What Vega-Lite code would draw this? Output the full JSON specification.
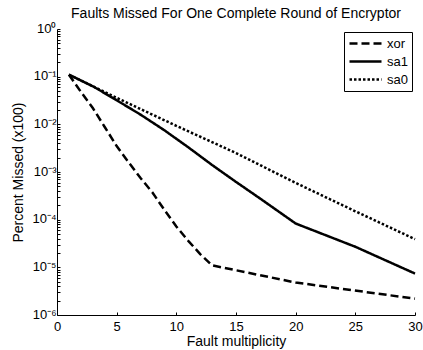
{
  "$schema": "https://vega.github.io/schema/vega-lite/v6.json",
  "width": 358,
  "height": 286,
  "autosize": "none",
  "padding": {"left": 57, "top": 29, "right": 8, "bottom": 35},
  "background": "white",
  "config": {
    "view": {"stroke": null},
    "font": "Liberation Sans",
    "axis": {"domainColor": "black", "tickColor": "black", "labelColor": "black", "titleColor": "black", "grid": false, "labelFontSize": 13, "titleFontSize": 14, "titleFontWeight": "normal"}
  },
  "title": {"text": "Faults Missed For One Complete Round of Encryptor", "fontSize": 14, "fontWeight": "normal", "color": "black", "offset": 1, "font": "Liberation Sans"},
  "data": {"values": [
    {"m": 1, "s": "xor", "v": 0.11},
    {"m": 2, "s": "xor", "v": 0.048},
    {"m": 3, "s": "xor", "v": 0.022},
    {"m": 4, "s": "xor", "v": 0.0088},
    {"m": 5, "s": "xor", "v": 0.0035},
    {"m": 6, "s": "xor", "v": 0.0016},
    {"m": 7, "s": "xor", "v": 0.00075},
    {"m": 8, "s": "xor", "v": 0.00037},
    {"m": 9, "s": "xor", "v": 0.00016},
    {"m": 10, "s": "xor", "v": 0.000072},
    {"m": 11, "s": "xor", "v": 0.000036},
    {"m": 12, "s": "xor", "v": 0.000019},
    {"m": 13, "s": "xor", "v": 0.000011},
    {"m": 20, "s": "xor", "v": 0.0000048},
    {"m": 30, "s": "xor", "v": 0.0000022},
    {"m": 1, "s": "sa1", "v": 0.11},
    {"m": 3, "s": "sa1", "v": 0.063},
    {"m": 5, "s": "sa1", "v": 0.032},
    {"m": 7, "s": "sa1", "v": 0.016},
    {"m": 9, "s": "sa1", "v": 0.0075},
    {"m": 11, "s": "sa1", "v": 0.0033},
    {"m": 13, "s": "sa1", "v": 0.0014},
    {"m": 15, "s": "sa1", "v": 0.00062},
    {"m": 17, "s": "sa1", "v": 0.00028},
    {"m": 20, "s": "sa1", "v": 0.000083},
    {"m": 25, "s": "sa1", "v": 0.000027},
    {"m": 30, "s": "sa1", "v": 0.0000074},
    {"m": 1, "s": "sa0", "v": 0.11},
    {"m": 5, "s": "sa0", "v": 0.036},
    {"m": 10, "s": "sa0", "v": 0.0093},
    {"m": 15, "s": "sa0", "v": 0.0025},
    {"m": 20, "s": "sa0", "v": 0.00059},
    {"m": 25, "s": "sa0", "v": 0.00015},
    {"m": 30, "s": "sa0", "v": 0.000039}
  ]},
  "mark": {"type": "line", "color": "black", "strokeWidth": 2.5},
  "encoding": {
    "x": {"field": "m", "type": "quantitative", "scale": {"domain": [0, 30], "nice": false},
      "axis": {"values": [0, 5, 10, 15, 20, 25, 30], "title": "Fault multiplicity", "tickSize": -3, "labelPadding": 8, "titlePadding": 1, "labelFlush": false}},
    "y": {"field": "v", "type": "quantitative", "scale": {"type": "log", "domain": [0.000001, 1], "nice": false},
      "axis": {"title": "Percent Missed (x100)", "tickSize": -3, "labelPadding": 4, "labelOffset": -1, "titlePadding": 6, "labelOverlap": false, "labelFlush": false,
        "values": [0.000001, 0.000002, 0.000003, 0.000004, 0.000005, 0.000006, 0.000007, 0.000008, 0.000009,
          0.00001, 0.00002, 0.00003, 0.00004, 0.00005, 0.00006, 0.00007, 0.00008, 0.00009,
          0.0001, 0.0002, 0.0003, 0.0004, 0.0005, 0.0006, 0.0007, 0.0008, 0.0009,
          0.001, 0.002, 0.003, 0.004, 0.005, 0.006, 0.007, 0.008, 0.009,
          0.01, 0.02, 0.03, 0.04, 0.05, 0.06, 0.07, 0.08, 0.09,
          0.1, 0.2, 0.3, 0.4, 0.5, 0.6, 0.7, 0.8, 0.9, 1],
        "labelExpr": "['10⁰','10⁻¹','10⁻²','10⁻³','10⁻⁴','10⁻⁵','10⁻⁶'][indexof([1,0.1,0.01,0.001,0.0001,0.00001,0.000001], datum.value)] || ''"}},
    "strokeDash": {"field": "s", "type": "nominal",
      "scale": {"domain": ["xor", "sa1", "sa0"], "range": [[8, 4], [1, 0], [2.5, 2]]},
      "legend": {"title": null, "orient": "top-right", "offset": 3, "strokeColor": "black", "fillColor": "white", "padding": 4, "symbolType": "stroke", "symbolSize": 1024, "clipHeight": 15, "symbolStrokeWidth": 2.5, "symbolStrokeColor": "black", "labelFontSize": 13, "labelColor": "black", "rowPadding": 3, "labelOffset": 4}
    }
  }
}
